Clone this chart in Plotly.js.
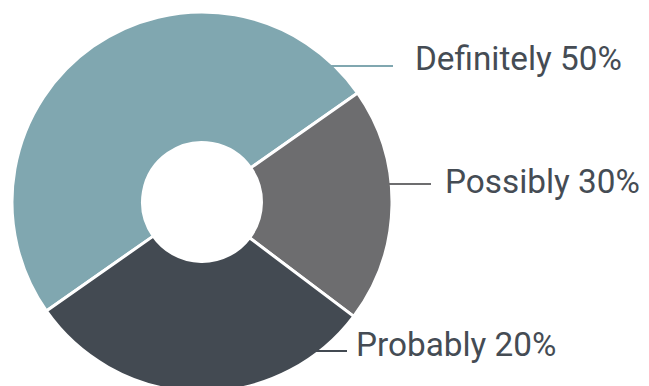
<!DOCTYPE html>
<html>
<head>
<meta charset="utf-8">
<script src="https://cdn.plot.ly/plotly-3.0.1.min.js"></script>
<style>
  html, body { margin: 0; padding: 0; background: #ffffff; overflow: hidden; width: 649px; height: 386px; }
  #wrap { width: 649px; height: 386px; overflow: hidden; position: relative; }
  #chart { width: 649px; height: 400px; position: absolute; left: 0; top: 0; }
</style>
</head>
<body>
<div id="wrap"><div id="chart"></div></div>
<script>
// Data
const categories = ["Definitely", "Possibly", "Probably"];
const shares = [50, 30, 20];
const sliceColors = ["#80a7b0", "#434a52", "#6d6d6f"];
// order of slices clockwise, starting at lower-left
const sliceOrder = ["Definitely", "Probably", "Possibly"];

const W = 649, H = 400;
const px = x => x / W;
const py = y => 1 - y / H;

const pieLabels = sliceOrder;
const pieValues = sliceOrder.map(c => shares[categories.indexOf(c)]);
const pieColors = sliceOrder.map(c => sliceColors[categories.indexOf(c)]);

const cx = 202, cy = 202, R = 190;

const trace = {
  type: "pie",
  labels: pieLabels,
  values: pieValues,
  sort: false,
  direction: "clockwise",
  rotation: 235,
  hole: 0.313,
  textinfo: "none",
  hoverinfo: "none",
  showlegend: false,
  marker: { colors: pieColors, line: { color: "#ffffff", width: 3 } },
  domain: { x: [px(cx - R), px(cx + R)], y: [py(cy + R), py(cy - R)] }
};

// label placement (layout positions only)
const labelPos = {
  "Definitely": { x: 413, y: 58, line: [325, 393, 66], lineColor: "#80a7b0" },
  "Possibly":   { x: 443, y: 181, line: [385, 431, 184], lineColor: "#6d6d6f" },
  "Probably":   { x: 354, y: 344, line: [313, 347, 351], lineColor: "#434a52" }
};

const annotations = categories.map((c, i) => ({
  xref: "paper", yref: "paper",
  x: px(labelPos[c].x), y: py(labelPos[c].y),
  xanchor: "left", yanchor: "middle",
  text: c + " " + shares[i] + "%",
  showarrow: false,
  font: { family: "Roboto, 'Open Sans', sans-serif", size: 33.3, color: "#454c54" }
}));

const shapes = categories.map((c, i) => ({
  type: "line", xref: "paper", yref: "paper",
  x0: px(labelPos[c].line[0]), x1: px(labelPos[c].line[1]),
  y0: py(labelPos[c].line[2]), y1: py(labelPos[c].line[2]),
  line: { color: labelPos[c].lineColor, width: 2 }
}));

const layout = {
  width: W, height: H,
  margin: { l: 0, r: 0, t: 0, b: 0 },
  paper_bgcolor: "#ffffff",
  plot_bgcolor: "#ffffff",
  annotations: annotations,
  shapes: shapes
};

Plotly.newPlot("chart", [trace], layout, { displayModeBar: false, staticPlot: true });
</script>
</body>
</html>
